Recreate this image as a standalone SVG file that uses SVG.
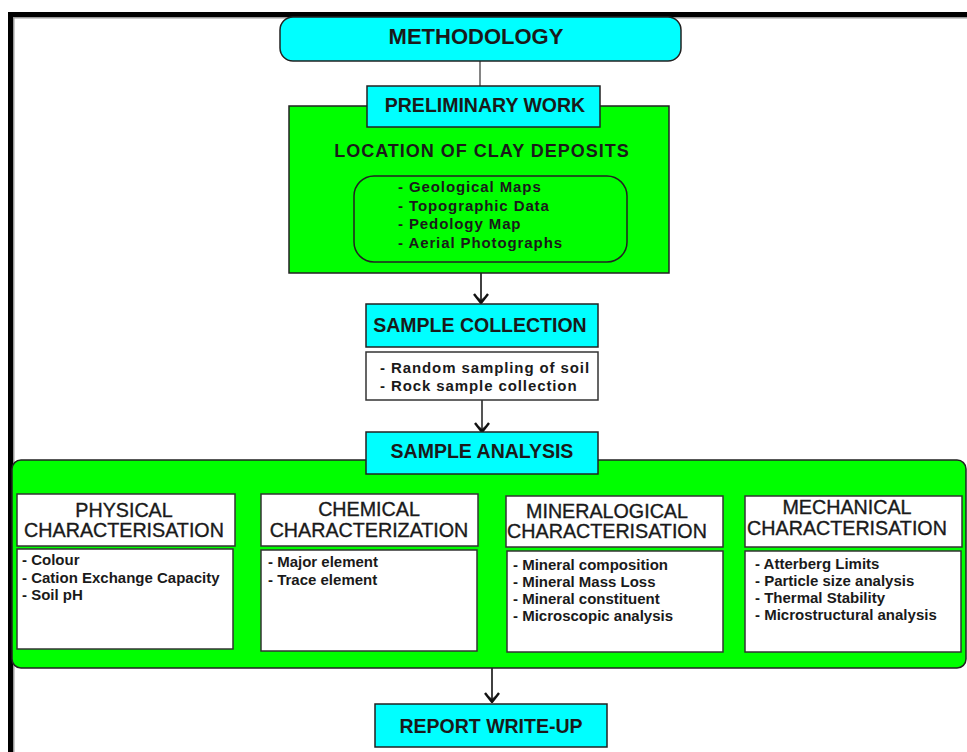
<svg xmlns="http://www.w3.org/2000/svg" width="967" height="752" viewBox="0 0 967 752">
<style>
.cy{fill:#00ffff;stroke:#222;stroke-width:1.5}
.gr{fill:#00ff00;stroke:#222;stroke-width:1.5}
.wh{fill:#ffffff;stroke:#333;stroke-width:1.5}
text{font-family:"Liberation Sans",Arial,sans-serif;fill:#1a1a1a}
.t{font-size:19.5px;font-weight:bold;text-anchor:middle}
.h{font-size:19.7px;text-anchor:middle;stroke:#1a1a1a;stroke-width:0.35}
.b{font-size:15px;font-weight:bold}
.bs{font-size:15px;font-weight:bold;letter-spacing:0.9px}
.ln{stroke:#111;stroke-width:1.6;fill:none}
</style>
<defs>
<marker id="ah" viewBox="0 0 16 16" refX="15" refY="8" markerWidth="16" markerHeight="16" markerUnits="userSpaceOnUse" orient="auto">
<path d="M6,1 L15,8 L6,15" fill="none" stroke="#111" stroke-width="2.4"/>
<path d="M9,5 L15,8 L9,11 L12,8 Z" fill="#111"/>
</marker>
</defs>
<rect width="967" height="752" fill="#ffffff"/>
<g id="frame">
<rect x="8" y="12" width="959" height="5" fill="#000"/>
<rect x="13" y="17" width="954" height="1.5" fill="#999"/>
<rect x="8" y="12" width="5" height="740" fill="#000"/>
<rect x="13" y="17" width="1.5" height="735" fill="#999"/>
</g>
<g id="connectors">
<line x1="480" y1="61" x2="480" y2="86" stroke="#333" stroke-width="1.2"/>
<line class="ln" x1="481" y1="273" x2="481" y2="303" marker-end="url(#ah)"/>
<line x1="482" y1="400" x2="482" y2="432" stroke="#555" stroke-width="2" marker-end="url(#ah)"/>
<line class="ln" x1="492" y1="668" x2="492" y2="702" marker-end="url(#ah)"/>
</g>
<g id="methodology">
<rect class="cy" x="280" y="17" width="401" height="44" rx="13"/>
<text class="t" x="476" y="44" style="font-size:22px">METHODOLOGY</text>
</g>
<g id="preliminary-area">
<rect class="gr" x="289" y="106" width="380" height="167"/>
<text x="482" y="157" style="font-size:18px;font-weight:bold;letter-spacing:1px;text-anchor:middle">LOCATION OF CLAY DEPOSITS</text>
<rect x="354" y="176" width="273" height="86" rx="20" fill="none" stroke="#222" stroke-width="1.5"/>
<text class="bs" x="398" y="192">- Geological Maps</text>
<text class="bs" x="398" y="211">- Topographic Data</text>
<text class="bs" x="398" y="229">- Pedology Map</text>
<text class="bs" x="398" y="248">- Aerial Photographs</text>
</g>
<g id="preliminary-work">
<rect class="cy" x="367" y="86" width="233" height="41"/>
<text class="t" x="485" y="112">PRELIMINARY WORK</text>
</g>
<g id="sample-collection">
<rect class="cy" x="366" y="304" width="232" height="43"/>
<text class="t" x="480" y="332">SAMPLE COLLECTION</text>
</g>
<g id="sample-collection-list">
<rect class="wh" x="366" y="352" width="232" height="48"/>
<text class="bs" x="380" y="373">- Random sampling of soil</text>
<text class="bs" x="380" y="391">- Rock sample collection</text>
</g>
<g id="analysis-area">
<rect class="gr" x="12" y="460" width="954" height="208" rx="9"/>
</g>
<g id="sample-analysis">
<rect class="cy" x="366" y="432" width="232" height="42"/>
<text class="t" x="482" y="458">SAMPLE ANALYSIS</text>
</g>
<g id="physical">
<rect class="wh" x="17" y="494" width="218" height="52"/>
<text class="h" x="124" y="517">PHYSICAL</text>
<text class="h" x="124" y="537">CHARACTERISATION</text>
<rect class="wh" x="17" y="549" width="216" height="100"/>
<text class="b" x="22" y="565">- Colour</text>
<text class="b" x="22" y="583">- Cation Exchange Capacity</text>
<text class="b" x="22" y="600">- Soil pH</text>
</g>
<g id="chemical">
<rect class="wh" x="261" y="494" width="217" height="52"/>
<text class="h" x="369" y="516">CHEMICAL</text>
<text class="h" x="369" y="537">CHARACTERIZATION</text>
<rect class="wh" x="261" y="550" width="216" height="101"/>
<text class="b" x="268" y="567">- Major element</text>
<text class="b" x="268" y="585">- Trace element</text>
</g>
<g id="mineralogical">
<rect class="wh" x="506" y="496" width="217" height="51"/>
<text class="h" x="607" y="518">MINERALOGICAL</text>
<text class="h" x="607" y="538">CHARACTERISATION</text>
<rect class="wh" x="507" y="551" width="216" height="101"/>
<text class="b" x="513" y="570">- Mineral composition</text>
<text class="b" x="513" y="587">- Mineral Mass Loss</text>
<text class="b" x="513" y="604">- Mineral constituent</text>
<text class="b" x="513" y="621">- Microscopic analysis</text>
</g>
<g id="mechanical">
<rect class="wh" x="745" y="496" width="217" height="51"/>
<text class="h" x="847" y="514">MECHANICAL</text>
<text class="h" x="847" y="535">CHARACTERISATION</text>
<rect class="wh" x="745" y="551" width="216" height="101"/>
<text class="b" x="755" y="569">- Atterberg Limits</text>
<text class="b" x="755" y="586">- Particle size analysis</text>
<text class="b" x="755" y="603">- Thermal Stability</text>
<text class="b" x="755" y="620">- Microstructural analysis</text>
</g>
<g id="report">
<rect class="cy" x="375" y="704" width="232" height="43"/>
<text class="t" x="491" y="733">REPORT WRITE-UP</text>
</g>
</svg>
